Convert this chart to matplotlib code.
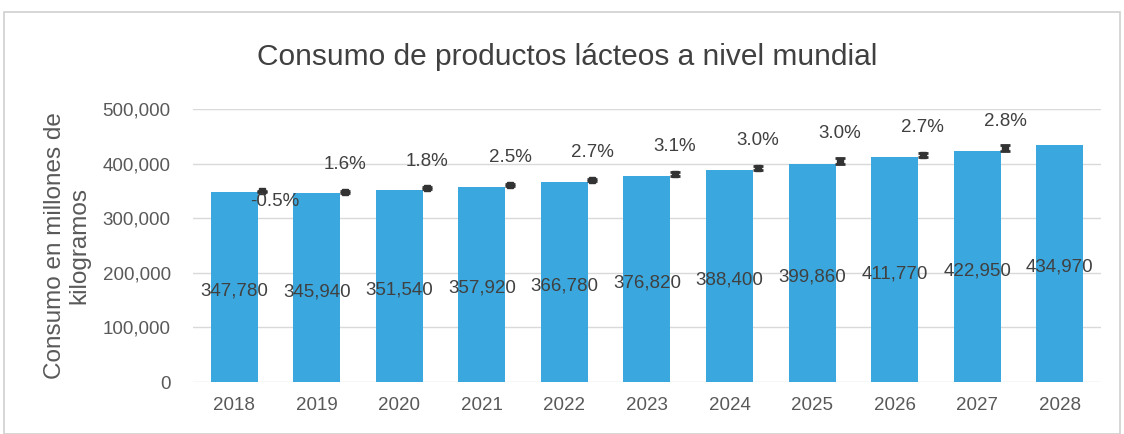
import numpy as np
import matplotlib
matplotlib.use('Agg')
import matplotlib.pyplot as plt
from matplotlib.patches import Rectangle

plt.rcParams["font.family"] = ["Liberation Sans", "DejaVu Sans"]

years = ["2018", "2019", "2020", "2021", "2022", "2023", "2024", "2025", "2026", "2027", "2028"]
consumo = [347780, 345940, 351540, 357920, 366780, 376820, 388400, 399860, 411770, 422950, 434970]
crecimiento = ["-0.5%", "1.6%", "1.8%", "2.5%", "2.7%", "3.1%", "3.0%", "3.0%", "2.7%", "2.8%"]
marcador = [349000, 348500, 355000, 361500, 370500, 381000, 392500, 405000, 416500, 428000]
error = [1500, 1500, 1500, 1800, 2200, 4000, 4000, 5500, 3500, 5500]

bar_color = '#3AA8DF'
text_color = '#404040'

fig = plt.figure(figsize=(11.24, 4.34), dpi=100)
fig.patches.append(Rectangle((0.004, 0.0), 0.992, 0.972, transform=fig.transFigure,
                             fill=False, edgecolor='#d0d0d0', linewidth=1.2))
ax = fig.add_axes([0.1717, 0.1198, 0.8078, 0.629])

x = np.arange(len(years))
ax.bar(x, consumo, width=0.57, color=bar_color, zorder=2)

for i, v in enumerate(consumo):
    ax.annotate(f"{v:,}", (i, v / 2), xytext=(0, -3), textcoords='offset points',
                ha='center', va='center', fontsize=13.5, color=text_color, zorder=4)

# marcadores de crecimiento
xm = x[:-1] + 0.34
ax.errorbar(xm, marcador, yerr=error, fmt='s', color='#333333', markersize=5,
            capsize=3.5, elinewidth=1.5, capthick=2, zorder=3)
for i, lab in enumerate(crecimiento):
    if lab.startswith('-'):
        ax.annotate(lab, (xm[i], marcador[i]), xytext=(9, -7), textcoords='offset points',
                    ha='center', va='center', fontsize=13.5, color=text_color, zorder=4)
    else:
        ax.annotate(lab, (xm[i], marcador[i]), xytext=(0, 19.5), textcoords='offset points',
                    ha='center', va='center', fontsize=13.5, color=text_color, zorder=4)

ax.set_xlim(-0.5, len(years) - 0.5)
ax.set_ylim(0, 500000)
ax.set_yticks(np.arange(0, 500001, 100000))
ax.set_yticklabels([f"{int(t):,}" for t in np.arange(0, 500001, 100000)])
ax.set_xticks(x)
ax.set_xticklabels(years)
ax.tick_params(axis='both', length=0, labelsize=13.5, colors='#595959')
ax.tick_params(axis='x', pad=11)
ax.tick_params(axis='y', pad=16)
ax.grid(axis='y', color='#d9d9d9', linewidth=1, zorder=0)
for s in ax.spines.values():
    s.set_visible(False)

ax.set_ylabel("Consumo en millones de\nkilogramos", fontsize=17.5, color='#595959',
              labelpad=9, linespacing=1.15)

fig.text(0.505, 0.868, "Consumo de productos lácteos a nivel mundial", ha='center', va='center',
         fontsize=21.5, color='#404040')

fig.savefig('out.png', dpi=100)
